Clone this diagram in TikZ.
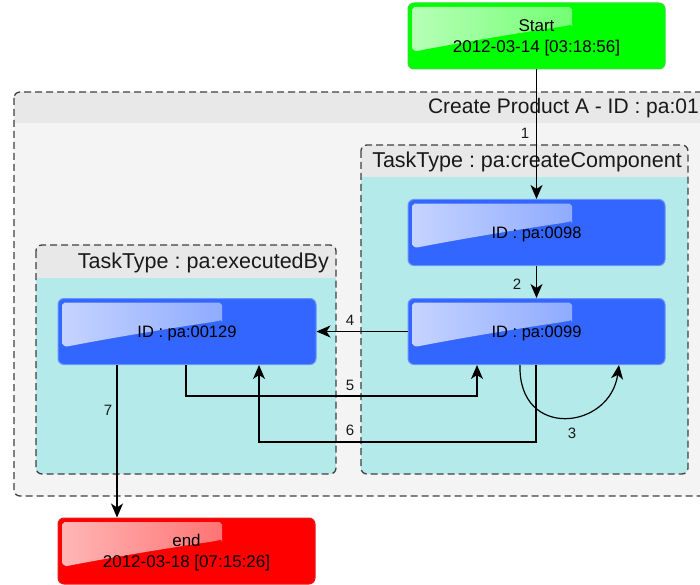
\documentclass[tikz,border=0pt]{standalone}
\usepackage{fontspec}
\setmainfont{Liberation Sans}
\usetikzlibrary{arrows.meta}
\frenchspacing
\definecolor{nodeblue}{HTML}{3366FF}
\definecolor{nodeblueb}{HTML}{6B93FF}
\definecolor{startgreen}{HTML}{00FF00}
\definecolor{startgreenb}{HTML}{33DD33}
\definecolor{endred}{HTML}{FF0000}
\definecolor{endredb}{HTML}{E02020}
\definecolor{groupcyan}{HTML}{B4EAEA}
\definecolor{headgray}{HTML}{E8E8E8}
\definecolor{outerbody}{HTML}{F4F4F4}
\definecolor{bordergray}{HTML}{404040}
\tikzset{
  gloss/.style={path picture={
    \shade[left color=white!72!#1, right color=white!30!#1]
      ([shift={(4,49)}]path picture bounding box.north west)
      -- ++(0,-37) .. controls +(0,-5) and +(-5,0) .. ++(8,-8)
      -- ++(144,0) .. controls +(5,0) and +(0,-5) .. ++(8,8)
      -- ++(0,6) .. controls +(0,3) and +(4,-1) .. ++(-6,5)
      .. controls +(-48,7) and +(46,-9) .. ++(-154,26) -- cycle;}},
  taskbox/.style={rectangle, rounded corners=6pt, minimum width=257pt,
    minimum height=66pt, inner sep=0pt, align=center, line width=1pt,
    text depth=-1.5pt, font=\fontsize{16.5}{21}\selectfont},
  bluebox/.style={taskbox, fill=nodeblue, draw=nodeblueb, gloss=nodeblue},
  greenbox/.style={taskbox, fill=startgreen, draw=startgreenb, gloss=startgreen,
    text depth=-5pt, font=\fontsize{17}{21}\selectfont},
  redbox/.style={taskbox, fill=endred, draw=endredb, gloss=endred,
    text depth=-5pt, font=\fontsize{17}{21}\selectfont},
  groupline/.style={draw=bordergray, line width=1.3pt, dash pattern=on 7pt off 4pt, rounded corners=6pt},
  grouptitle/.style={font=\fontsize{21.5}{25}\selectfont, inner sep=0pt, text=black!90},
  edge/.style={draw=black, line width=1.2pt, -{Stealth[length=14pt,width=12pt,inset=4pt]}},
  lbl/.style={font=\fontsize{15}{18}\selectfont, inner sep=1pt, text=black!90}
}
\begin{document}
\begin{tikzpicture}[x=1pt,y=-1pt]
\useasboundingbox (0,0) rectangle (700,585);
\fill[white] (0,0) rectangle (700,585);
% outer group
\begin{scope}
  \clip[rounded corners=6pt] (14,92) rectangle (720,496);
  \fill[outerbody] (14,92) rectangle (720,496);
  \fill[headgray] (14,92) rectangle (720,123);
\end{scope}
\draw[groupline] (14,92) rectangle (720,496);
\node[grouptitle, anchor=east, font=\fontsize{21}{25}\selectfont] (outertitle) at (699,108) {Create Product A - ID : pa:01};
% right group
\begin{scope}
  \clip[rounded corners=6pt] (361,145) rectangle (688,474);
  \fill[groupcyan] (361,145) rectangle (688,474);
  \fill[headgray] (361,145) rectangle (688,177);
\end{scope}
\draw[groupline] (361,145) rectangle (688,474);
\node[grouptitle, anchor=east] (cctitle) at (682,162) {TaskType : pa:createComponent};
% left group
\begin{scope}
  \clip[rounded corners=6pt] (36,245) rectangle (336,474);
  \fill[groupcyan] (36,245) rectangle (336,474);
  \fill[headgray] (36,245) rectangle (336,278);
\end{scope}
\draw[groupline] (36,245) rectangle (336,474);
\node[grouptitle, anchor=east] (ebtitle) at (329,263) {TaskType : pa:executedBy};
% nodes
\node[greenbox] (start) at (536.5,36) {Start\\2012-03-14 [03:18:56]};
\node[bluebox] (n98) at (536.5,232.5) {ID : pa:0098};
\node[bluebox] (n99) at (536.5,331.5) {ID : pa:0099};
\node[bluebox, minimum width=258pt] (n129) at (187,331.5) {ID : pa:00129};
\node[redbox] (end) at (186.5,551) {end\\2012-03-18 [07:15:26]};
% edges
\draw[edge] (start.south) -- (n98.north);
\draw[edge] (n98.south) -- (n99.north);
\draw[edge] ([xshift=-16.5pt]n99.south) .. controls +(-2,75) and +(-9,65) .. ([xshift=82.5pt]n99.south);
\draw[edge] (n99.west) -- (n129.east);
\draw[edge] ([xshift=-1pt]n129.south) -- ++(0,31) -| ([xshift=-59.5pt]n99.south);
\draw[edge] ([xshift=-0.5pt]n99.south) -- ++(0,77) -| ([xshift=72pt]n129.south);
\draw[edge] ([xshift=-70pt]n129.south) -- ([xshift=-70pt]n129.south |- end.north);
% labels
\node[lbl] (l1) at (525,133) {1};
\node[lbl] (l2) at (517,284) {2};
\node[lbl] (l3) at (572,433) {3};
\node[lbl] (l4) at (350,320) {4};
\node[lbl] (l5) at (350,385) {5};
\node[lbl] (l6) at (350,430) {6};
\node[lbl] (l7) at (108,410) {7};
\end{tikzpicture}
\end{document}
